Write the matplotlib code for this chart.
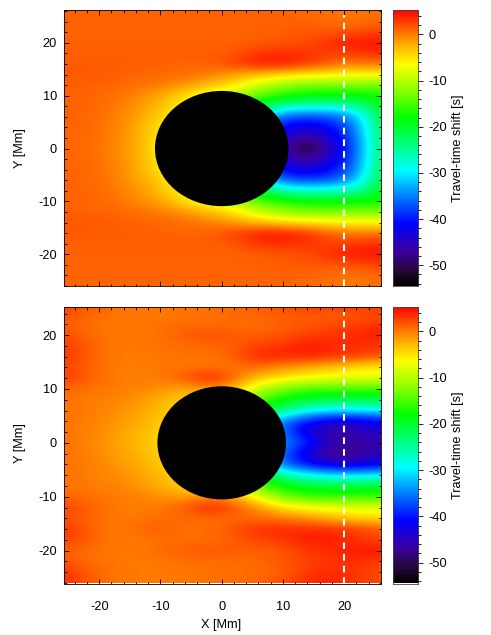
import numpy as np
import matplotlib
matplotlib.use('Agg')
import matplotlib.pyplot as plt
from matplotlib.colors import LinearSegmentedColormap
from matplotlib.patches import Ellipse
from matplotlib.ticker import MultipleLocator

plt.rcParams['font.family'] = ['Liberation Sans', 'DejaVu Sans']
plt.rcParams['font.size'] = 9.2
plt.rcParams['axes.unicode_minus'] = False

# grid nodes of the travel-time maps [Mm]
x_nodes = [-26, -22, -18, -14, -10, -6, -2, 2, 6, 10, 14, 18, 22, 26]
y_nodes = [26, 24, 22, 20, 18, 16, 14, 12, 10, 8, 6, 4, 2, 0,
           -2, -4, -6, -8, -10, -12, -14, -16, -18, -20, -22, -24, -26]

# travel-time shift [s], rows follow y_nodes and columns follow x_nodes
shift_top = [
    [1, 1, 1, 1, 1, 1, 1, 1, 1, 1, .8, .3, 0, .5],
    [1, 1, 1, 1, 1, 1, 1, 1, 1, 1, 1, .5, 0, 1],
    [1, 1, 1, 1, 1, 1, 1, 1, 1, 1.3, 1.5, 1.5, 2, 2.5],
    [1, 1, 1, 1, 1, 1, 1, 1, 1.3, 1.5, 2, 3.5, 4.5, 4.5],
    [1.2, 1.2, 1.2, 1.2, 1.2, 1.2, 1.2, 1.5, 3, 3.5, 3, 2.5, 3, 3.5],
    [1.3, 1.3, 1.2, 1.2, 1, 1, 1, 2.5, 4.5, 4.5, 3.5, 1, 0, .5],
    [1.5, 1.5, 1.3, 1, .8, .5, 0, -1.5, -3, -4, -5, -5.5, -6, -6],
    [1.2, 1, 1, .5, 0, -1, -3, -5, -9, -12, -13, -13, -13, -13],
    [1, 1, .5, -.5, -2, -5, -8, -10, -15, -16, -18, -18, -18, -17],
    [1, 1, .3, -1, -3, -6, -10, -14, -20, -26, -27, -27, -26, -19],
    [1, 1, 0, -1.5, -4, -8, -12, -18, -28, -37, -38, -37, -33, -20],
    [1, .8, 0, -2, -5, -9, -14, -20, -32, -42, -43, -41, -35, -21],
    [1, .8, -.2, -2, -5.5, -10, -15, -22, -35, -44, -48, -43, -36, -22],
    [1, .8, -.2, -2, -6, -10, -15, -24, -36, -46, -53, -45, -36, -22],
    [1, .8, -.2, -2, -5.5, -10, -15, -22, -35, -44, -48, -43, -36, -22],
    [1, .8, 0, -2, -5, -9, -14, -20, -32, -42, -43, -41, -35, -21],
    [1, 1, 0, -1.5, -4, -8, -12, -18, -28, -37, -38, -37, -33, -20],
    [1, 1, .3, -1, -3, -6, -10, -14, -20, -26, -27, -27, -26, -19],
    [1, 1, .5, -.5, -2, -5, -8, -10, -15, -16, -18, -18, -18, -17],
    [1.2, 1, 1, .5, 0, -1, -3, -5, -9, -12, -13, -13, -13, -13],
    [1.5, 1.5, 1.3, 1, .8, .5, 0, -1.5, -3, -4, -5, -5.5, -6, -6],
    [1.3, 1.3, 1.2, 1.2, 1, 1, 1, 2.5, 4.5, 4.5, 3.5, 1, 0, .5],
    [1.2, 1.2, 1.2, 1.2, 1.2, 1.2, 1.2, 1.5, 3, 3.5, 3, 2.5, 3, 3.5],
    [1, 1, 1, 1, 1, 1, 1, 1, 1.3, 1.5, 2, 3.5, 4.5, 4.5],
    [1, 1, 1, 1, 1, 1, 1, 1, 1, 1.3, 1.5, 1.5, 2, 2.5],
    [1, 1, 1, 1, 1, 1, 1, 1, 1, 1, 1, .5, 0, 1],
    [1, 1, 1, 1, 1, 1, 1, 1, 1, 1, .8, .3, 0, .5],
]
shift_bottom = [
    [3, 2, .5, 0, 0, .3, .3, .5, 1, 2, 3.5, 4, 4, 3],
    [2, 1, .3, 0, 0, .3, .3, .8, 1.2, 1.5, 1.5, 1, 1.5, 2],
    [1.5, .5, 0, 0, .3, .5, .5, .5, .5, 1, 1.5, 2, 2.5, 3],
    [2, .8, 0, 0, .5, 1.5, 2, 1.5, 1, 1.5, 2.5, 3, 3.5, 4.5],
    [3, 1.5, 0, 0, .3, .5, 1, 1, 2.5, 3, 4.5, 3.5, 3.5, 3],
    [3, 1.5, 0, 0, 0, .5, 0, 1.5, 4, 4, 4, 3.5, 3, 2],
    [2.5, 1, 0, -.2, 0, 0, 0, 0, .5, -1, -2, -3.5, -5, -6],
    [3, 1.5, 0, -.2, 0, 1.5, 4.5, 1, -3, -5, -6.5, -7, -7.5, -7.5],
    [.8, .3, 0, -.3, -1, -2, -1, -2, -10, -13, -15, -15, -15, -15],
    [.3, 0, -.3, -1, -2.5, -4, -6, -8, -14, -18, -20, -21, -21, -21],
    [.3, 0, -.8, -1.5, -3, -5, -8, -12, -18, -24, -28, -30, -30, -29],
    [.3, 0, -1, -2, -3.5, -6, -10, -15, -26, -36, -40, -43, -43, -41],
    [.3, -.3, -1.3, -2.5, -4, -7, -11, -16, -28, -36, -44, -48, -46, -44],
    [.3, -.3, -1.5, -2.8, -4.5, -7, -11, -16, -28, -35, -38, -46, -47, -46],
    [.3, -.3, -1.3, -2.5, -4, -7, -11, -16, -28, -36, -44, -49, -48, -45],
    [.3, 0, -1, -2, -3.5, -6, -10, -15, -26, -37, -41, -44, -44, -42],
    [.3, 0, -.8, -1.5, -3, -5, -8, -12, -18, -26, -29, -31, -31, -30],
    [.3, 0, -.3, -1, -2.5, -4, -6, -8, -14, -18, -20, -21, -21, -20],
    [.8, .3, 0, -.3, -1, -2, -1, -2, -8, -14, -16, -16, -16, -16],
    [2.5, 1.5, 0, -.2, 0, 1.5, 4.5, 2, -1, -5, -7, -7.5, -8, -8],
    [2, 1, 0, 0, .5, .5, .5, .5, .5, 0, -1, -3, -4.5, -5],
    [3, 1.5, 0, .5, 1.5, .5, .5, 2, 3.5, 3.5, 3.5, 3.5, 3, 1.5],
    [2.5, 1.5, 0, 0, .5, .5, .5, 1, 2.5, 3, 4.5, 4, 3, 2],
    [1.5, .5, 0, 0, .5, 1.5, 1.5, 1.5, 1, 1.5, 3, 3.5, 4.5, 4.5],
    [1.5, .5, 0, 0, 0, .5, .5, .5, 1, 1.5, 2.5, 3, 3.5, 2.5],
    [3.5, 1.5, .2, 0, 0, 0, .5, .5, .5, 1, 3, 3.5, 3, 2],
    [3.5, 1.5, .2, 0, 0, 0, .5, .5, 1, 2, 3.5, 4, 3, 2],
]

disc_radius_top = 10.9
disc_radius_bottom = 10.5
cut_x = 20

cb_ticks = [0, -10, -20, -30, -40, -50]

vmin, vmax = -54.5, 5.4
color_stops = [(-54.5, '#000000'), (-51, '#28083c'), (-47, '#3a00a0'), (-41, '#0000ff'),
               (-35, '#0080ff'), (-29.5, '#00ffff'), (-24, '#00ff80'), (-18, '#00ff00'),
               (-12, '#90ff00'), (-6.5, '#ffff00'), (-2, '#ffa800'), (1, '#ff6400'), (5.4, '#ff0000')]
cmap = LinearSegmentedColormap.from_list('rain', [((v - vmin) / (vmax - vmin), c) for v, c in color_stops], N=512)

W, H = 491, 635


def pixel_axes(left, top, right, bottom):
    return fig.add_axes([left / W, 1 - bottom / H, (right - left) / W, (bottom - top) / H])


def draw_map(box, values, radius, xlim, ylim, show_x):
    ax = pixel_axes(*box)
    ax.imshow(np.array(values, dtype=float), cmap=cmap, vmin=vmin, vmax=vmax, aspect='auto',
              interpolation='bicubic', extent=[-28, 28, -27, 27], origin='upper')
    ax.add_patch(Ellipse((0, 0), 2 * radius, 2 * radius, color='black', lw=0, zorder=3))
    ax.plot([cut_x, cut_x], [ylim[0], ylim[1] - 1], color='white', lw=1.5, dashes=(3.2, 2.4), zorder=4)
    ax.set_xlim(xlim)
    ax.set_ylim(ylim)
    ax.xaxis.set_major_locator(MultipleLocator(10))
    ax.xaxis.set_minor_locator(MultipleLocator(2))
    ax.yaxis.set_major_locator(MultipleLocator(10))
    ax.yaxis.set_minor_locator(MultipleLocator(2))
    ax.tick_params(which='major', direction='in', top=True, right=True, length=3.5, width=0.6,
                   labelbottom=show_x)
    ax.tick_params(axis='x', which='major', pad=12.5)
    ax.tick_params(axis='y', which='major', pad=5)
    ax.tick_params(which='minor', direction='in', top=True, right=True, length=1.8, width=0.6)
    for s in ax.spines.values():
        s.set_linewidth(0.6)
    return ax


def draw_bar(box):
    ax = pixel_axes(*box)
    ramp = np.linspace(vmax, vmin, 512).reshape(-1, 1)
    ax.imshow(ramp, cmap=cmap, vmin=vmin, vmax=vmax, aspect='auto', extent=[0, 1, vmin, vmax])
    ax.set_xticks([])
    ax.set_yticks(cb_ticks)
    ax.yaxis.set_minor_locator(MultipleLocator(2))
    ax.yaxis.tick_right()
    ax.tick_params(which='major', direction='out', length=3.5, width=0.6, pad=4)
    ax.tick_params(which='minor', direction='out', length=1.8, width=0.6)
    for s in ax.spines.values():
        s.set_linewidth(0.6)
        s.set_color('#444444')
    return ax


fig = plt.figure(figsize=(W / 100, H / 100), dpi=100)

draw_map((64, 9.5, 381, 286), shift_top, disc_radius_top, (-25.75, 26), (-26, 26.3), False)
draw_map((64, 306.5, 381, 583.5), shift_bottom, disc_radius_bottom, (-25.75, 26), (-26.1, 25.3), True)
draw_bar((393, 9.5, 418, 286))
draw_bar((393, 306.5, 418, 583.5))

fig.text(20 / W, 1 - 148 / H, 'Y [Mm]', rotation=90, ha='center', va='center')
fig.text(20 / W, 1 - 443 / H, 'Y [Mm]', rotation=90, ha='center', va='center')
fig.text(221.5 / W, 1 - 625 / H, 'X [Mm]', ha='center', va='center')
fig.text(458 / W, 1 - 148 / H, 'Travel-time shift [s]', rotation=90, ha='center', va='center')
fig.text(458 / W, 1 - 445 / H, 'Travel-time shift [s]', rotation=90, ha='center', va='center')

fig.savefig('out.png', dpi=100)
